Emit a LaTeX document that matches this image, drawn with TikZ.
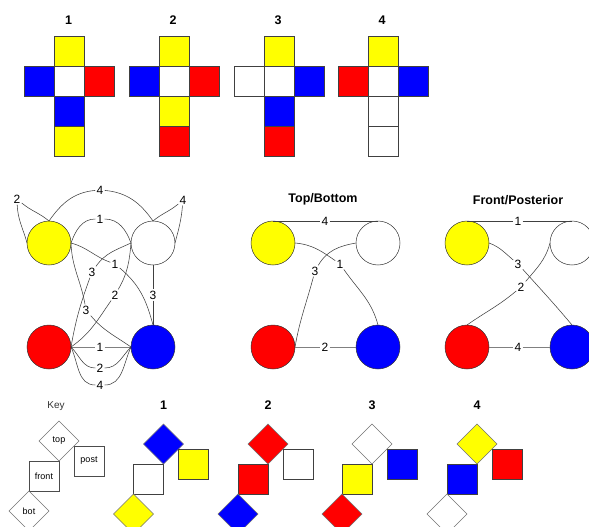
\documentclass[tikz,border=0pt]{standalone}
\usepackage{fontspec}
\setmainfont{Liberation Sans}
\usetikzlibrary{shapes.geometric}
\definecolor{cY}{RGB}{255,255,0}
\definecolor{cB}{RGB}{0,0,255}
\definecolor{cR}{RGB}{255,0,0}
\begin{document}
\begin{tikzpicture}[x=1pt,y=-1pt,
  face/.style={draw=black!75, line width=0.6pt, minimum size=30pt, inner sep=0pt, outer sep=0pt},
  dface/.style={draw=black!55, line width=0.6pt, diamond, aspect=1, minimum size=40pt, inner sep=0pt, outer sep=0pt},
  vert/.style={circle, draw=black!80, line width=0.5pt, minimum size=44pt, inner sep=0pt, outer sep=0pt},
  lbl/.style={fill=white, inner sep=1.2pt, font=\fontsize{12}{12}\selectfont},
  ttl/.style={font=\bfseries\fontsize{12.5}{12.5}\selectfont},
  keytxt/.style={font=\fontsize{9}{9}\selectfont},
  edge/.style={draw=black!75, line width=0.55pt},
  gedge/.style={draw=black!50, line width=0.9pt}
]
\useasboundingbox (0,0) rectangle (589,527);
\clip (0,0) rectangle (589,527);

% ---------- cross nets ----------
\foreach \cx/\k/\pA/\pB/\pC/\pD/\pE/\pF in {
  69.5/1/cY/cB/white/cR/cB/cY,
  174/2/cY/cB/white/cR/cY/cR,
  279/3/cY/white/white/cB/cB/cR,
  383/4/cY/cR/white/cB/white/white}{
  \node[ttl] (net\k) at (\cx-1,20) {\k};
  \node[face, fill=\pA] (net\k t) at (\cx,51) {};
  \node[face, fill=\pB] (net\k l) at (\cx-30,81) {};
  \node[face, fill=\pC] (net\k m) at (\cx,81) {};
  \node[face, fill=\pD] (net\k r) at (\cx+30,81) {};
  \node[face, fill=\pE] (net\k a) at (\cx,111) {};
  \node[face, fill=\pF] (net\k b) at (\cx,141) {};
}

% ---------- graph 1 (all cubes) ----------
\node[vert, fill=cY] (Ya) at (49,243) {};
\node[vert, fill=white] (Wa) at (153,243) {};
\node[vert, fill=cR] (Ra) at (49,347) {};
\node[vert, fill=cB] (Ba) at (153,347) {};

\node[lbl] (ga2) at (17,199) {2};
\node[lbl] (ga4) at (100,190) {4};
\node[lbl] (gw4) at (183,200) {4};
\node[lbl] (ga1) at (100,219) {1};
\node[lbl] (gyb1) at (115,264) {1};
\node[lbl] (gwr3) at (92,272) {3};
\node[lbl] (gyb3) at (86,310) {3};
\node[lbl] (gwr2) at (115,295) {2};
\node[lbl] (gwb3) at (153,295) {3};
\node[lbl] (grb1) at (100,347) {1};
\node[lbl] (grb2) at (100,368) {2};
\node[lbl] (grb4) at (100,385) {4};

\draw[edge] (Ya.north) to[out=140,in=-40] (ga2);
\draw[edge] (ga2) to[out=-88,in=105] (Ya.west);
\draw[edge] (Ya.north) to[out=55,in=185] (ga4);
\draw[edge] (ga4) to[out=-5,in=125] (Wa.north);
\draw[edge] (Wa.north) to[out=40,in=220] (gw4);
\draw[edge] (gw4) to[out=-95,in=75] (Wa.east);
\draw[edge] (Ya.east) to[out=70,in=180] (ga1);
\draw[edge] (ga1) to[out=0,in=110] (Wa.west);
\draw[edge] (Ya.east) to[out=-15,in=160] (gyb1);
\draw[edge] (gyb1) to[out=-40,in=105] (Ba.north);
\draw[edge] (Wa.west) to[out=-155,in=55] (gwr3);
\draw[edge] (gwr3) to[out=-110,in=80] (Ra.east);
\draw[edge] (Ya.east) to[out=-88,in=100] (gyb3);
\draw[edge] (gyb3) to[out=-50,in=145] (Ba.west);
\draw[edge] (Wa.west) to[out=-95,in=60] (gwr2);
\draw[edge] (gwr2) to[out=-125,in=35] (Ra.east);
\draw[edge] (Wa.south) -- (gwb3);
\draw[edge] (gwb3) -- (Ba.north);
\draw[gedge] (Ra.east) -- (grb1);
\draw[gedge] (grb1) -- (Ba.west);
\draw[edge] (Ra.east) to[out=-45,in=180] (grb2);
\draw[edge] (grb2) to[out=0,in=-135] (Ba.west);
\draw[edge] (Ra.east) to[out=-65,in=180] (grb4);
\draw[edge] (grb4) to[out=0,in=-115] (Ba.west);

% ---------- graph 2 (Top/Bottom) ----------
\node[ttl] (tb) at (323,199) {Top/Bottom};
\node[vert, fill=cY] (Yb) at (273,243) {};
\node[vert, fill=white] (Wb) at (378,243) {};
\node[vert, fill=cR] (Rb) at (273,347) {};
\node[vert, fill=cB] (Bb) at (378,347) {};
\node[lbl] (gb4) at (325,221) {4};
\node[lbl] (gb1) at (340,264) {1};
\node[lbl] (gb3) at (315,271) {3};
\node[lbl] (gb2) at (325,347) {2};
\draw[edge] (Yb.north) -- (gb4);
\draw[edge] (gb4) -- (Wb.north);
\draw[edge] (Yb.east) to[out=-5,in=145] (gb1);
\draw[edge] (gb1) to[out=-55,in=105] (Bb.north);
\draw[edge] (Wb.west) to[out=190,in=60] (gb3);
\draw[edge] (gb3) to[out=-105,in=80] (Rb.east);
\draw[gedge] (Rb.east) -- (gb2);
\draw[gedge] (gb2) -- (Bb.west);

% ---------- graph 3 (Front/Posterior) ----------
\node[ttl] (fp) at (518,200) {Front/Posterior};
\node[vert, fill=cY] (Yc) at (467,243) {};
\node[vert, fill=white] (Wc) at (572,243) {};
\node[vert, fill=cR] (Rc) at (467,347) {};
\node[vert, fill=cB] (Bc) at (572,347) {};
\node[lbl] (gc1) at (518,221) {1};
\node[lbl] (gc3) at (518,264) {3};
\node[lbl] (gc2) at (521,287) {2};
\node[lbl] (gc4) at (518,347) {4};
\draw[edge] (Yc.north) -- (gc1);
\draw[edge] (gc1) -- (Wc.north);
\draw[edge] (Yc.east) to[out=-20,in=140] (gc3);
\draw[edge] (gc3) to[out=-48,in=130] (Bc.north);
\draw[edge] (Wc.west) to[out=-105,in=50] (gc2);
\draw[edge] (gc2) to[out=-140,in=35] (Rc.north);
\draw[gedge] (Rc.east) -- (gc4);
\draw[gedge] (gc4) -- (Bc.west);

% ---------- key ----------
\node[font=\fontsize{10}{10}\selectfont, text=black!80] (keyt) at (56,406) {Key};
\node[face, draw=black!70] (kf) at (44,476) {};
\node[keytxt] at (kf.center) {front};
\node[dface] (kt) at (59,441) {};
\node[keytxt] at (kt.center) {top};
\node[face, draw=black!70] (kp) at (89,461) {};
\node[keytxt] at (kp.center) {post};
\node[dface] (kb) at (29,511) {};
\node[keytxt] at (kb.center) {bot};

% ---------- cubes ----------
\foreach \fx/\k/\pT/\pF/\pP/\pD in {
  148.5/1/cB/white/cY/cY,
  253/2/cR/cR/white/cB,
  357/3/white/cY/cB/cR,
  462/4/cY/cB/cR/white}{
  \node[ttl] (cube\k) at (\fx+15,405) {\k};
  \node[face, fill=\pF] (f\k) at (\fx,479) {};
  \node[dface, fill=\pT] (t\k) at (\fx+15,444) {};
  \node[face, fill=\pP] (p\k) at (\fx+45,464) {};
  \node[dface, fill=\pD] (b\k) at (\fx-15,514) {};
}
\end{tikzpicture}
\end{document}
